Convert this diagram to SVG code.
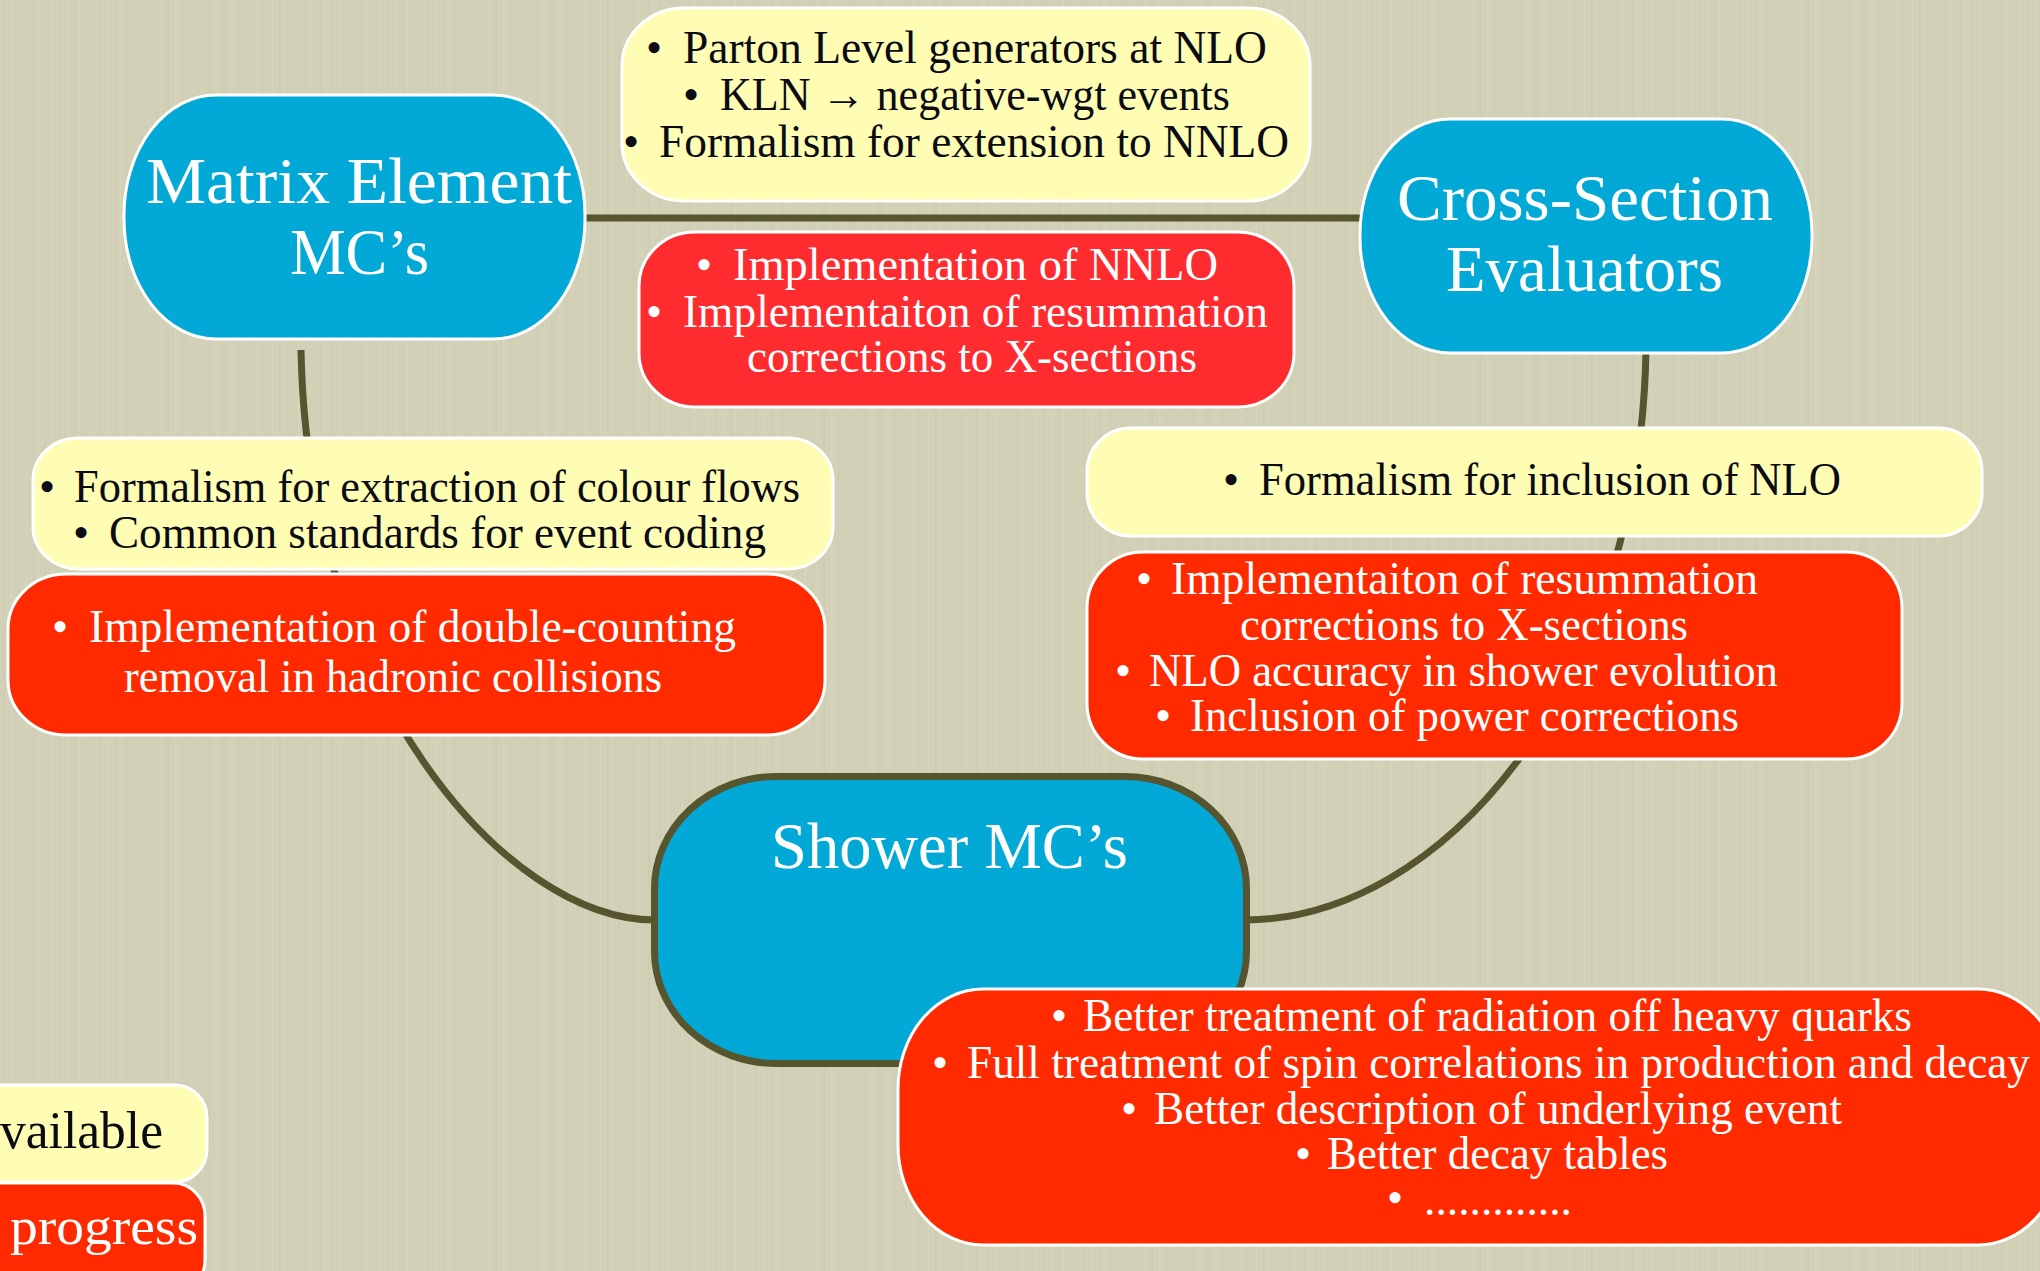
<svg xmlns="http://www.w3.org/2000/svg" width="2040" height="1271" viewBox="0 0 2040 1271">
<defs>
<style>
.t{font-family:"Liberation Serif","DejaVu Serif",serif;font-size:46px}
.dk{fill:#0b0b14}
.lt{fill:#ffffff}
.ttl{font-family:"Liberation Serif","DejaVu Serif",serif;font-size:65px;fill:#ffffff}
.yel{fill:#fefdb3;stroke:#ffffff;stroke-width:3}
.red{fill:#ff2a00;stroke:#ffffff;stroke-width:3}
.redp{fill:#fe2b2f;stroke:#ffffff;stroke-width:3}
.blue{fill:#03a9d6;stroke:#ffffff;stroke-width:3}
.conn{fill:none;stroke:#56552f;stroke-width:7}
</style>
<pattern id="tex" width="41" height="1271" patternUnits="userSpaceOnUse">
<rect x="3" y="0" width="2" height="1271" fill="#c6c5aa" opacity="0.25"/>
<rect x="11" y="0" width="1" height="1271" fill="#e2e1cc" opacity="0.3"/>
<rect x="17" y="0" width="3" height="1271" fill="#c9c8ad" opacity="0.2"/>
<rect x="26" y="0" width="1" height="1271" fill="#e0dfca" opacity="0.3"/>
<rect x="33" y="0" width="2" height="1271" fill="#c4c3a8" opacity="0.22"/>
<rect x="38" y="0" width="1" height="1271" fill="#dfdec8" opacity="0.25"/>
</pattern>
</defs>
<rect x="0" y="0" width="2040" height="1271" fill="#d2d1b7"/>
<rect x="0" y="0" width="2040" height="1271" fill="url(#tex)"/>

<g id="connectors">
<line class="conn" x1="583" y1="218" x2="1362" y2="218"/>
<path class="conn" d="M 301 350 C 307 690 505 920 655 920"/>
<path class="conn" d="M 1646 350 C 1640 690 1440 920 1245 920"/>
</g>

<g id="matrix-element">
<rect class="blue" x="124" y="95" width="461" height="244" rx="92" ry="120"/>
<text class="ttl" x="146" y="203" textLength="426" lengthAdjust="spacingAndGlyphs">Matrix Element</text>
<text class="ttl" x="290" y="274" textLength="139" lengthAdjust="spacingAndGlyphs">MC’s</text>
</g>

<g id="cross-section">
<rect class="blue" x="1360" y="119" width="452" height="234" rx="90" ry="115"/>
<text class="ttl" x="1397" y="220" textLength="376" lengthAdjust="spacingAndGlyphs">Cross-Section</text>
<text class="ttl" x="1446" y="291" textLength="277" lengthAdjust="spacingAndGlyphs">Evaluators</text>
</g>

<g id="shower">
<rect x="654.5" y="776.5" width="592" height="287" rx="122" ry="112" fill="#03a9d6" stroke="#56552f" stroke-width="7"/>
<text class="ttl" x="771" y="868" textLength="357" lengthAdjust="spacingAndGlyphs">Shower MC’s</text>
</g>

<g id="top-available">
<rect class="yel" x="622" y="8" width="688" height="193" rx="62" ry="58"/>
<text class="t dk" x="646" y="63">•</text>
<text class="t dk" x="683" y="63" textLength="584" lengthAdjust="spacingAndGlyphs">Parton Level generators at NLO</text>
<text class="t dk" x="683" y="110">•</text>
<text class="t dk" x="720" y="110" textLength="510" lengthAdjust="spacingAndGlyphs">KLN → negative-wgt events</text>
<text class="t dk" x="623" y="157">•</text>
<text class="t dk" x="659" y="157" textLength="630" lengthAdjust="spacingAndGlyphs">Formalism for extension to NNLO</text>
</g>

<g id="top-progress">
<rect class="redp" x="639" y="232" width="655" height="175" rx="56" ry="54"/>
<text class="t lt" x="696" y="280">•</text>
<text class="t lt" x="733" y="280" textLength="485" lengthAdjust="spacingAndGlyphs">Implementation of NNLO</text>
<text class="t lt" x="646" y="327">•</text>
<text class="t lt" x="683" y="327" textLength="585" lengthAdjust="spacingAndGlyphs">Implementaiton of resummation</text>
<text class="t lt" x="747" y="372" textLength="450" lengthAdjust="spacingAndGlyphs">corrections to X-sections</text>
</g>

<g id="left-available">
<rect class="yel" x="33" y="438" width="800" height="131" rx="45" ry="42"/>
<text class="t dk" x="39" y="502">•</text>
<text class="t dk" x="74" y="502" textLength="726" lengthAdjust="spacingAndGlyphs">Formalism for extraction of colour flows</text>
<text class="t dk" x="73" y="548">•</text>
<text class="t dk" x="109" y="548" textLength="657" lengthAdjust="spacingAndGlyphs">Common standards for event coding</text>
</g>

<g id="left-progress">
<rect class="red" x="8" y="574" width="817" height="161" rx="58" ry="55"/>
<text class="t lt" x="52" y="642">•</text>
<text class="t lt" x="89" y="642" textLength="647" lengthAdjust="spacingAndGlyphs">Implementation of double-counting</text>
<text class="t lt" x="124" y="692" textLength="538" lengthAdjust="spacingAndGlyphs">removal in hadronic collisions</text>
</g>

<g id="right-available">
<rect class="yel" x="1087" y="428" width="895" height="108" rx="44" ry="43"/>
<text class="t dk" x="1223" y="495">•</text>
<text class="t dk" x="1259" y="495" textLength="582" lengthAdjust="spacingAndGlyphs">Formalism for inclusion of NLO</text>
</g>

<g id="right-progress">
<rect class="red" x="1087" y="552" width="815" height="207" rx="56" ry="56"/>
<text class="t lt" x="1136" y="594">•</text>
<text class="t lt" x="1171" y="594" textLength="587" lengthAdjust="spacingAndGlyphs">Implementaiton of resummation</text>
<text class="t lt" x="1240" y="640" textLength="448" lengthAdjust="spacingAndGlyphs">corrections to X-sections</text>
<text class="t lt" x="1115" y="686">•</text>
<text class="t lt" x="1149" y="686" textLength="629" lengthAdjust="spacingAndGlyphs">NLO accuracy in shower evolution</text>
<text class="t lt" x="1155" y="731">•</text>
<text class="t lt" x="1190" y="731" textLength="549" lengthAdjust="spacingAndGlyphs">Inclusion of power corrections</text>
</g>

<g id="shower-progress">
<rect class="red" x="898" y="989" width="1165" height="256" rx="85" ry="100"/>
<text class="t lt" x="1051" y="1031">•</text>
<text class="t lt" x="1083" y="1031" textLength="829" lengthAdjust="spacingAndGlyphs">Better treatment of radiation off heavy quarks</text>
<text class="t lt" x="932" y="1078">•</text>
<text class="t lt" x="967" y="1078" textLength="1063" lengthAdjust="spacingAndGlyphs">Full treatment of spin correlations in production and decay</text>
<text class="t lt" x="1121" y="1124">•</text>
<text class="t lt" x="1154" y="1124" textLength="688" lengthAdjust="spacingAndGlyphs">Better description of underlying event</text>
<text class="t lt" x="1295" y="1169">•</text>
<text class="t lt" x="1327" y="1169" textLength="341" lengthAdjust="spacingAndGlyphs">Better decay tables</text>
<text class="t lt" x="1387" y="1213">•</text>
<text class="t lt" x="1424" y="1215" textLength="148" lengthAdjust="spacingAndGlyphs">.............</text>
</g>

<g id="legend-available">
<rect class="yel" x="-30" y="1085" width="237" height="97" rx="32" ry="33"/>
<text class="t dk" x="0" y="1148" style="font-size:52px" textLength="163" lengthAdjust="spacingAndGlyphs">vailable</text>
</g>

<g id="legend-progress">
<rect class="red" x="-30" y="1183" width="235" height="110" rx="32" ry="33"/>
<text class="t lt" x="10" y="1244" style="font-size:52px" textLength="188" lengthAdjust="spacingAndGlyphs">progress</text>
</g>
</svg>
